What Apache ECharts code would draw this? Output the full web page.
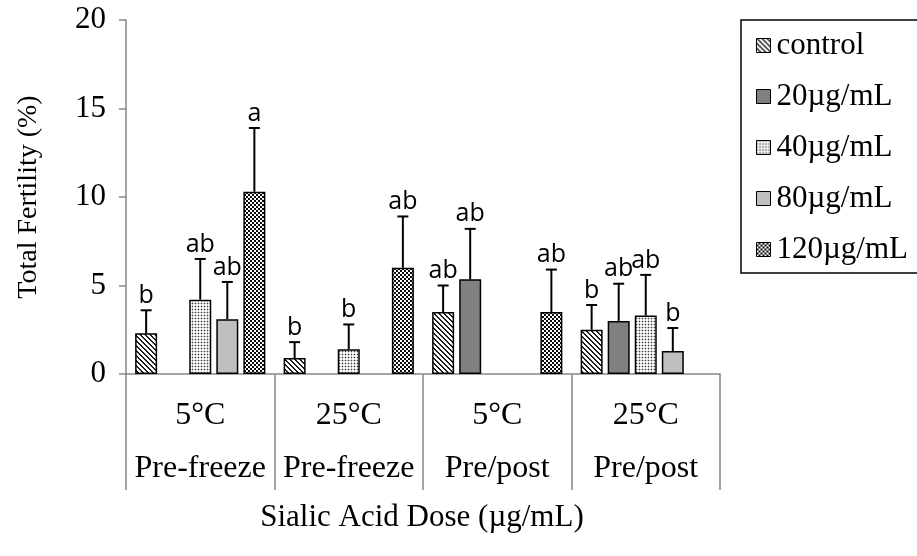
<!DOCTYPE html>
<html>
<head>
<meta charset="utf-8">
<script src="https://cdn.jsdelivr.net/npm/echarts@6/dist/echarts.min.js"></script>
<style>
  html, body { margin: 0; padding: 0; background: #ffffff; }
  #chart { width: 917px; height: 556px; }
</style>
</head>
<body>
<div id="chart"></div>
<script>
// Treatment groups (temperature / timing of sialic acid addition)
const categories = ['5°C\nPre-freeze', '25°C\nPre-freeze', '5°C\nPre/post', '25°C\nPre/post'];
const doseNames = ['control', '20µg/mL', '40µg/mL', '80µg/mL', '120µg/mL'];

// Mean total fertility (%) per dose, one value per group (null = not tested)
const control  = [2.3, 0.9, 3.5, 2.5];
const dose20   = [null, null, 5.35, 3.0];
const dose40   = [4.2, 1.4, null, 3.3];
const dose80   = [3.1, null, null, 1.3];
const dose120  = [10.3, 6.0, 3.5, null];

// Upper error (SEM) per dose
const controlErr = [1.3, 0.9, 1.5, 1.4];
const dose20Err  = [null, null, 2.85, 2.1];
const dose40Err  = [2.3, 1.4, null, 2.3];
const dose80Err  = [2.1, null, null, 1.3];
const dose120Err = [3.6, 2.9, 2.4, null];

// Significance letters
const controlSig = ['b', 'b', 'ab', 'b'];
const dose20Sig  = [null, null, 'ab', 'ab'];
const dose40Sig  = ['ab', 'b', null, 'ab'];
const dose80Sig  = ['ab', null, null, 'b'];
const dose120Sig = ['a', 'ab', 'ab', null];

const yTicks = { min: 0, max: 20, interval: 5 };

const means = [control, dose20, dose40, dose80, dose120];
const errs = [controlErr, dose20Err, dose40Err, dose80Err, dose120Err];
const sigs = [controlSig, dose20Sig, dose40Sig, dose80Sig, dose120Sig];

// ---- fill patterns ----
function makePattern(size, painter) {
  const c = document.createElement('canvas');
  c.width = size; c.height = size;
  const ctx = c.getContext('2d');
  const img = ctx.createImageData(size, size);
  for (let y = 0; y < size; y++) {
    for (let x = 0; x < size; x++) {
      const v = painter(x, y);
      const i = (y * size + x) * 4;
      img.data[i] = v; img.data[i + 1] = v; img.data[i + 2] = v; img.data[i + 3] = 255;
    }
  }
  ctx.putImageData(img, 0, 0);
  return { image: c, repeat: 'repeat' };
}
// downward diagonal stripes
const diagFill = makePattern(5, (x, y) => (((x - y) % 5 + 5) % 5 < 2 ? 30 : 255));
// fine dotted grid
const dotFill = makePattern(3, (x, y) => (x === 0 && y === 0 ? 60 : (x === 0 || y === 0 ? 200 : 255)));
// checkerboard
const checkFill = makePattern(4, (x, y) => ((Math.floor(x / 2) + Math.floor(y / 2)) % 2 === 0 ? 255 : 10));

const fills = [diagFill, '#808080', dotFill, '#bfbfbf', checkFill];

const BAR_W = 22;
const GAP = 0.23;
const STEP = BAR_W * (1 + GAP);

const barSeries = doseNames.map((name, i) => ({
  name: name,
  type: 'bar',
  data: means[i],
  barWidth: BAR_W,
  barGap: (GAP * 100) + '%',
  itemStyle: { color: fills[i], borderColor: '#000', borderWidth: 1.5 },
  emphasis: { disabled: true },
  z: 2
}));

// Upward error bars with caps and significance letters
const errSeries = doseNames.map((name, i) => ({
  type: 'custom',
  name: name + ' err',
  data: means[i].map((m, k) => (m == null ? null : [k, m, errs[i][k]])).filter(d => d),
  encode: { x: 0, y: 1 },
  z: 3,
  silent: true,
  renderItem: function (params, api) {
    const k = api.value(0);
    const m = api.value(1);
    const e = api.value(2);
    const sig = sigs[i][k] || '';
    const base = api.coord([k, m]);
    const top = api.coord([k, m + e]);
    const x = base[0] + (i - 2) * STEP;
    return {
      type: 'group',
      children: [
        { type: 'line', shape: { x1: x, y1: base[1], x2: x, y2: top[1] }, style: { stroke: '#000', lineWidth: 2 } },
        { type: 'line', shape: { x1: x - 5.5, y1: top[1], x2: x + 5.5, y2: top[1] }, style: { stroke: '#000', lineWidth: 2 } },
        { type: 'text', x: x, y: top[1] - 2, style: { text: sig, fill: '#000', font: '25px "Open Sans"', align: 'center', verticalAlign: 'bottom' } }
      ]
    };
  }
}));

const axisGray = '#868686';
const serif = '"Liberation Serif", "Times New Roman", serif';

const chart = echarts.init(document.getElementById('chart'), null, { renderer: 'canvas' });
chart.setOption({
  animation: false,
  backgroundColor: '#ffffff',
  grid: { left: 126, right: 197, top: 20, bottom: 182 },
  legend: {
    data: doseNames,
    orient: 'vertical',
    left: 741,
    top: 20,
    icon: 'rect',
    itemWidth: 14,
    itemHeight: 14,
    itemGap: 20,
    padding: [10, 40, 8, 15],
    borderColor: '#000',
    borderWidth: 1.5,
    selectedMode: false,
    itemStyle: { borderColor: '#000', borderWidth: 1 },
    textStyle: { fontFamily: serif, fontSize: 31, lineHeight: 31, color: '#000', padding: [0, 0, 0, 1] }
  },
  xAxis: {
    type: 'category',
    data: categories,
    axisLine: { lineStyle: { color: axisGray, width: 1.5 } },
    axisTick: { show: true, interval: 0, length: 116, lineStyle: { color: axisGray, width: 1.5 } },
    axisLabel: { interval: 0, margin: 15, fontFamily: serif, fontSize: 32, lineHeight: 53, color: '#000' }
  },
  yAxis: {
    type: 'value',
    min: yTicks.min,
    max: yTicks.max,
    interval: yTicks.interval,
    splitLine: { show: false },
    axisLine: { show: true, lineStyle: { color: axisGray, width: 1.5 } },
    axisTick: { show: true, length: 7, lineStyle: { color: axisGray, width: 1.5 } },
    axisLabel: { margin: 20, fontFamily: serif, fontSize: 31, color: '#000' }
  },
  graphic: [
    { type: 'text', x: 29, y: 197, rotation: Math.PI / 2, style: { text: 'Total Fertility (%)', font: '28px ' + serif, fill: '#000', align: 'center', verticalAlign: 'middle' } },
    { type: 'text', x: 422, y: 518, style: { text: 'Sialic Acid Dose (µg/mL)', font: '31px ' + serif, fill: '#000', align: 'center', verticalAlign: 'middle' } }
  ],
  series: barSeries.concat(errSeries)
});
</script>
</body>
</html>
